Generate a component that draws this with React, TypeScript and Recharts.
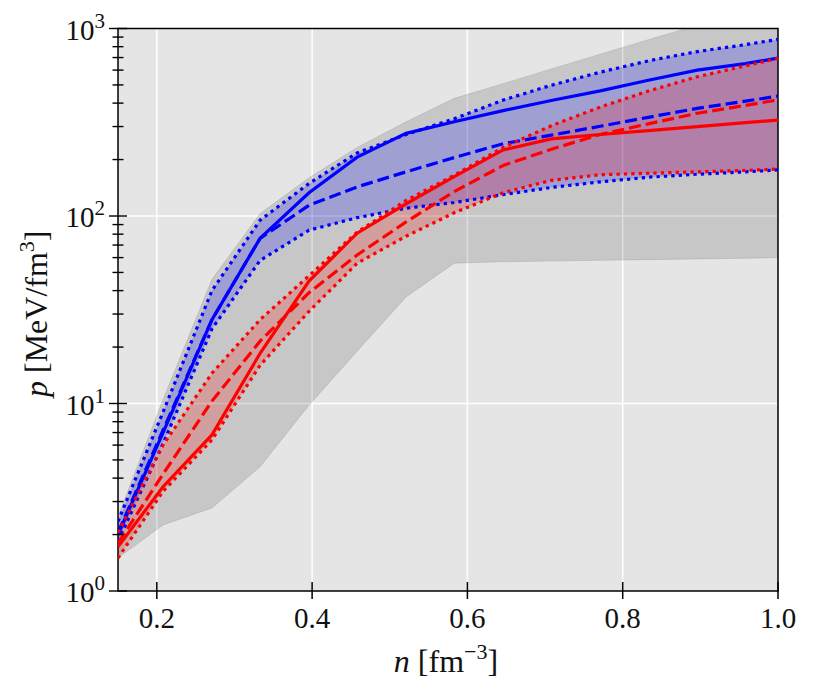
import {
  ComposedChart,
  Area,
  Line,
  XAxis,
  YAxis,
  CartesianGrid,
  ReferenceArea,
} from "recharts";

// baryon density n [fm^-3]
const DENSITY = [0.15, 0.208, 0.271, 0.333, 0.396, 0.458, 0.521, 0.583, 0.646, 0.708, 0.771, 0.833, 0.896, 0.958, 1.0];

// grey envelope
const ENV_LOW = [1.5, 2.25, 2.77, 4.6, 9.8, 19, 37, 56, 57, 57.5, 58, 58.5, 59, 59.5, 60];
const ENV_HIGH = [2.5, 10.5, 46, 103, 160, 232, 318, 424, 508, 609, 730, 872, 1040, 1240, 1400];

// blue set
const BLUE_SOLID = [2.0, 7.0, 28, 76, 133, 206, 276, 318, 365, 413, 465, 530, 600, 650, 695];
const BLUE_DASHED = [2.05, 7.2, 28, 76, 114, 143, 172, 205, 243, 270, 301, 336, 375, 410, 436];
const BLUE_DOT_HIGH = [2.35, 9, 40, 95, 149, 217, 272, 330, 415, 498, 585, 672, 753, 820, 875];
const BLUE_DOT_LOW = [1.85, 6.1, 25, 58, 84, 98, 110, 118, 130, 142, 152, 161, 167, 172, 176];

// red set
const RED_SOLID = [1.72, 3.6, 6.8, 18.5, 45, 81, 116, 162, 225, 258, 272, 285, 300, 315, 325];
const RED_DASHED = [1.8, 4.2, 10.3, 21.5, 39, 62, 93, 135, 186, 227, 272, 310, 353, 389, 416];
const RED_DOT_HIGH = [2.05, 6, 14.5, 28, 48, 82, 121, 165, 232, 303, 381, 464, 553, 632, 693];
const RED_DOT_LOW = [1.5, 3.4, 6.4, 16, 31, 56, 78, 104, 133, 155, 166, 169, 172, 175, 178];

const X_TICKS = [0.2, 0.4, 0.6, 0.8, 1.0];
const Y_MAJOR = [1, 10, 100, 1000];
const Y_TICKS = [1, 2, 3, 4, 5, 6, 7, 8, 9, 10, 20, 30, 40, 50, 60, 70, 80, 90, 100, 200, 300, 400, 500, 600, 700, 800, 900, 1000];

const rows = DENSITY.map((n, i) => ({
  n,
  env: [ENV_LOW[i], ENV_HIGH[i]],
  blueBand: [BLUE_DOT_LOW[i], BLUE_DOT_HIGH[i]],
  redBand: [RED_DOT_LOW[i], RED_DOT_HIGH[i]],
  blueSolid: BLUE_SOLID[i],
  blueDashed: BLUE_DASHED[i],
  blueDotHigh: BLUE_DOT_HIGH[i],
  blueDotLow: BLUE_DOT_LOW[i],
  redSolid: RED_SOLID[i],
  redDashed: RED_DASHED[i],
  redDotHigh: RED_DOT_HIGH[i],
  redDotLow: RED_DOT_LOW[i],
}));

const FONT = "Liberation Serif, DejaVu Serif, serif";
const BLUE = "#0000ff";
const RED = "#ff0000";
const LW = 3.2;
const DASH = "12 5";
const DOT = "3.3 4.1";

function XTick(props: any) {
  const { x, y, payload } = props;
  return (
    <g>
      <line x1={x} x2={x} y1={y - 9} y2={y + 8} stroke="#000" strokeWidth={1.5} />
      <text x={x} y={y + 37} textAnchor="middle" fontSize={29} fontFamily={FONT} fill="#111">
        {payload.value.toFixed(1)}
      </text>
    </g>
  );
}

function YTick(props: any) {
  const { x, y, payload } = props;
  const v = payload.value;
  const major = Y_MAJOR.includes(v);
  const half = major ? 9 : 5.5;
  return (
    <g>
      <line x1={x - half} x2={x + half} y1={y} y2={y} stroke="#000" strokeWidth={1.4} />
      {major && (
        <text x={x - 13} y={y + 11} textAnchor="end" fontSize={29} fontFamily={FONT} fill="#111">
          10
          <tspan dy={-12} fontSize={21}>
            {Math.round(Math.log10(v))}
          </tspan>
        </text>
      )}
    </g>
  );
}

function XTitle(props: any) {
  const vb = props.viewBox;
  const cx = vb.x + vb.width / 2 - 2;
  const cy = vb.y + 81;
  return (
    <text x={cx} y={cy} textAnchor="middle" fontSize={32} fontFamily={FONT} fill="#111">
      <tspan fontStyle="italic">n</tspan>
      <tspan> [fm</tspan>
      <tspan dy={-13} fontSize={22}>−3</tspan>
      <tspan dy={13}>]</tspan>
    </text>
  );
}

function YTitle(props: any) {
  const vb = props.viewBox;
  const cx = vb.x + 29;
  const cy = vb.y + vb.height / 2 + 4;
  return (
    <text
      x={cx}
      y={cy}
      transform={`rotate(-90 ${cx} ${cy})`}
      textAnchor="middle"
      fontSize={32}
      fontFamily={FONT}
      fill="#111"
    >
      <tspan fontStyle="italic">p</tspan>
      <tspan> [MeV/fm</tspan>
      <tspan dy={-13} fontSize={22}>3</tspan>
      <tspan dy={13}>]</tspan>
    </text>
  );
}

export default function App() {
  return (
    <div style={{ position: "absolute", left: 0, top: 0, width: 814, height: 698, background: "#fff" }}>
      <ComposedChart
        width={814}
        height={698}
        data={rows}
        margin={{ top: 28.5, right: 36, bottom: 47, left: 18 }}
      >
        <CartesianGrid
          fill="#e5e5e5"
          stroke="#ffffff"
          strokeWidth={1.5}
          horizontalValues={[10, 100]}
          verticalValues={[0.2, 0.4, 0.6, 0.8]}
        />
        <XAxis
          dataKey="n"
          type="number"
          domain={[0.15, 1.0]}
          ticks={X_TICKS}
          interval={0}
          allowDataOverflow
          height={60}
          tickSize={0}
          tickMargin={0}
          tick={<XTick />}
          axisLine={false}
          label={<XTitle />}
        />
        <YAxis
          type="number"
          scale="log"
          domain={[1, 1000]}
          ticks={Y_TICKS}
          interval={0}
          allowDataOverflow
          width={100}
          tickSize={0}
          tickMargin={0}
          tick={<YTick />}
          axisLine={false}
          label={<YTitle />}
        />
        <Area
          dataKey="env"
          type="linear"
          fill="#000"
          fillOpacity={0.13}
          stroke="#000"
          strokeOpacity={0.1}
          strokeWidth={1}
          activeDot={false}
          isAnimationActive={false}
        />
        <Area
          dataKey="blueBand"
          type="linear"
          fill={BLUE}
          fillOpacity={0.2}
          stroke="none"
          activeDot={false}
          isAnimationActive={false}
        />
        <Area
          dataKey="redBand"
          type="linear"
          fill={RED}
          fillOpacity={0.2}
          stroke="none"
          activeDot={false}
          isAnimationActive={false}
        />
        <Line dataKey="blueDotHigh" type="linear" stroke={BLUE} strokeWidth={LW} strokeDasharray={DOT} dot={false} activeDot={false} isAnimationActive={false} />
        <Line dataKey="blueDotLow" type="linear" stroke={BLUE} strokeWidth={LW} strokeDasharray={DOT} dot={false} activeDot={false} isAnimationActive={false} />
        <Line dataKey="blueDashed" type="linear" stroke={BLUE} strokeWidth={LW} strokeDasharray={DASH} dot={false} activeDot={false} isAnimationActive={false} />
        <Line dataKey="blueSolid" type="linear" stroke={BLUE} strokeWidth={LW} dot={false} activeDot={false} isAnimationActive={false} />
        <Line dataKey="redDotHigh" type="linear" stroke={RED} strokeWidth={LW} strokeDasharray={DOT} dot={false} activeDot={false} isAnimationActive={false} />
        <Line dataKey="redDotLow" type="linear" stroke={RED} strokeWidth={LW} strokeDasharray={DOT} dot={false} activeDot={false} isAnimationActive={false} />
        <Line dataKey="redDashed" type="linear" stroke={RED} strokeWidth={LW} strokeDasharray={DASH} dot={false} activeDot={false} isAnimationActive={false} />
        <Line dataKey="redSolid" type="linear" stroke={RED} strokeWidth={LW} dot={false} activeDot={false} isAnimationActive={false} />
        <ReferenceArea x1={0.15} x2={1.0} y1={1} y2={1000} fill="none" stroke="#000" strokeWidth={1.5} fillOpacity={0} />
      </ComposedChart>
    </div>
  );
}
